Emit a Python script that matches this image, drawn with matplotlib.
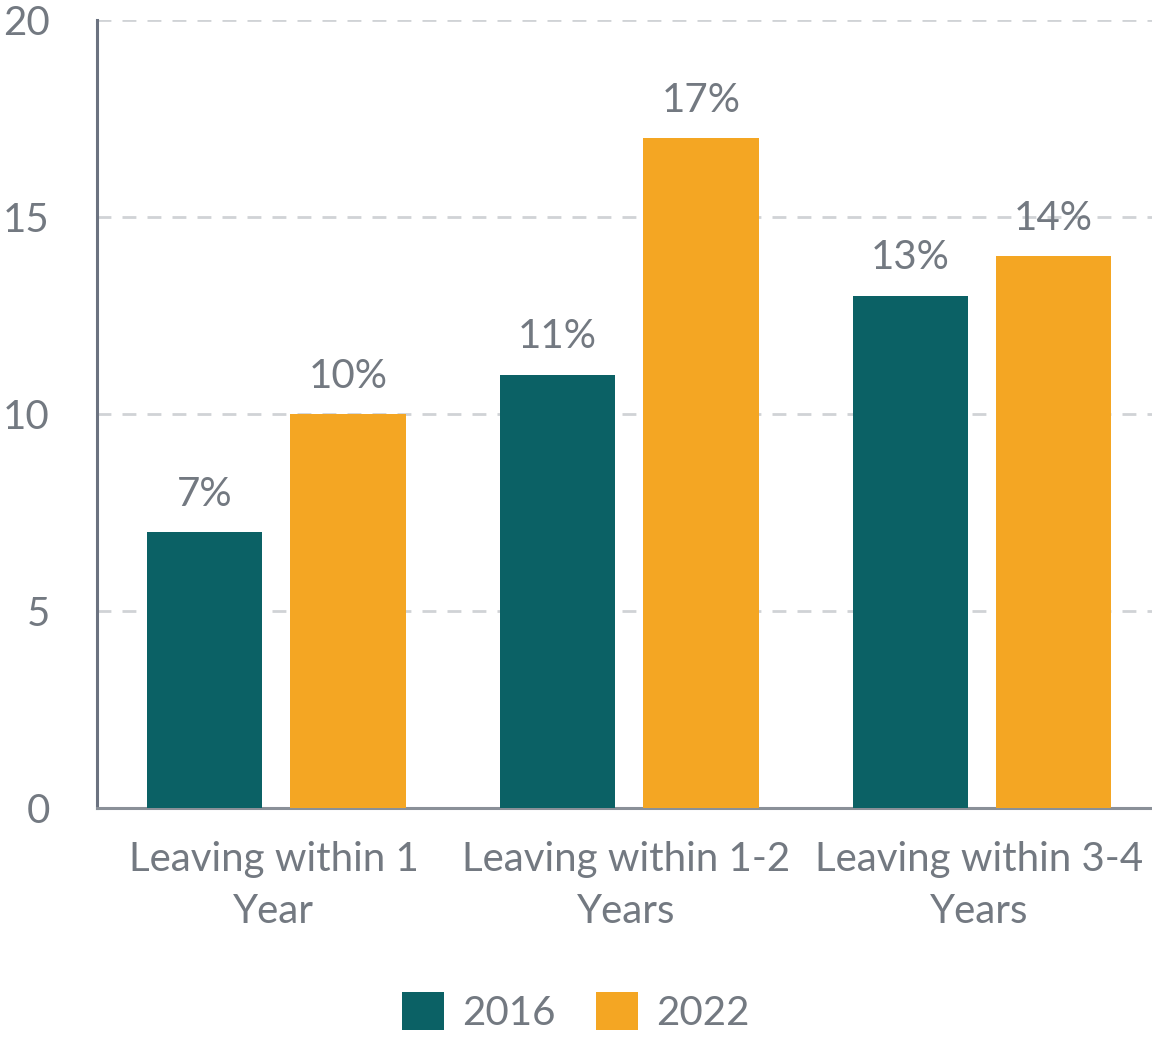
import matplotlib
matplotlib.use("Agg")
import matplotlib.pyplot as plt
import numpy as np

categories = ["Leaving within 1\nYear", "Leaving within 1-2\nYears", "Leaving within 3-4\nYears"]
years = ["2016", "2022"]
vals_2016 = [7, 11, 13]
vals_2022 = [10, 17, 14]
yticks = [0, 5, 10, 15, 20]

teal = "#0b6165"
orange = "#f4a623"
txt = "#737981"

plt.rcParams["font.family"] = ["Lato", "DejaVu Sans"]

fig = plt.figure(figsize=(11.52, 10.37), dpi=100)
ax = fig.add_axes([0.0842, 0.2208, 0.919, 0.7599])

x = np.arange(len(categories))
w = 0.327
off = 0.203
b1 = ax.bar(x - off + 0.008, vals_2016, w, color=teal, label=years[0], zorder=3)
b2 = ax.bar(x + off + 0.008, vals_2022, w, color=orange, label=years[1], zorder=3)

for bars, vals in [(b1, vals_2016), (b2, vals_2022)]:
    for bar, v in zip(bars, vals):
        ax.annotate(f"{v}%", (bar.get_x() + bar.get_width() / 2, v),
                    xytext=(0, 14), textcoords="offset points",
                    ha="center", va="bottom", fontsize=29, color=txt)

ax.set_xlim(-0.5, 2.5)
ax.set_ylim(0, 20)
ax.set_yticks(yticks)
ax.set_xticks(x)
ax.set_xticklabels(categories, linespacing=1.5)
ax.tick_params(axis="y", length=0, pad=34, labelsize=29, labelcolor=txt)
ax.tick_params(axis="x", length=0, pad=24, labelsize=29, labelcolor=txt)

ax.grid(axis="y", color="#d0d3d6", linestyle=(0, (5, 4)), linewidth=2, zorder=0)
for s in ["top", "right"]:
    ax.spines[s].set_visible(False)
ax.spines["left"].set_color("#6b7280")
ax.spines["left"].set_linewidth(2.2)
ax.spines["bottom"].set_color("#8a9098")
ax.spines["bottom"].set_linewidth(2.2)

fig.legend(loc="center", bbox_to_anchor=(0.5, 0.024), ncol=2, frameon=False,
           fontsize=29, labelcolor=txt, handlelength=1.04, handleheight=1.04,
           handletextpad=0.45, columnspacing=1.0)

fig.savefig("out.png", dpi=100)
